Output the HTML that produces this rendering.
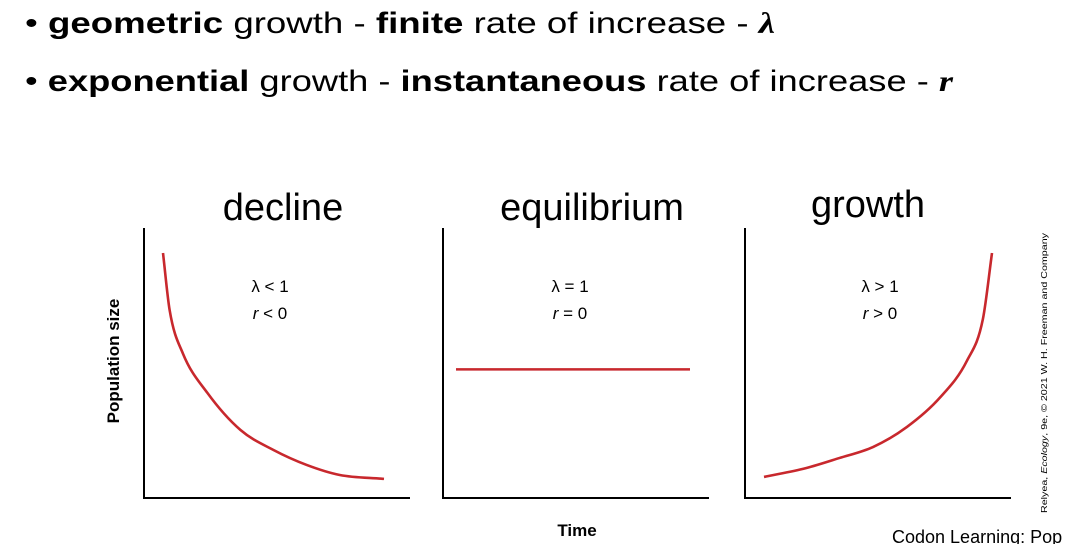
<!DOCTYPE html>
<html><head><meta charset="utf-8"><style>
html,body{margin:0;padding:0;background:#fff;}
svg{display:block;font-family:"Liberation Sans",sans-serif;}
</style></head><body>
<svg id="chart" width="1078" height="544" viewBox="0 0 1078 544">
<text x="25" y="33" font-size="30" textLength="750" lengthAdjust="spacingAndGlyphs">• <tspan font-weight="bold">geometric</tspan> growth  - <tspan font-weight="bold">finite</tspan> rate of increase - <tspan font-weight="bold" font-style="italic" font-family="Liberation Serif">λ</tspan></text>
<text x="25" y="91" font-size="30" textLength="928" lengthAdjust="spacingAndGlyphs">• <tspan font-weight="bold">exponential</tspan> growth - <tspan font-weight="bold">instantaneous</tspan> rate of increase - <tspan font-weight="bold" font-style="italic" font-family="Liberation Serif">r</tspan></text>
<text x="283" y="220" font-size="38" text-anchor="middle">decline</text>
<text x="592" y="220" font-size="38" text-anchor="middle">equilibrium</text>
<text x="868" y="217" font-size="38" text-anchor="middle">growth</text>
<text transform="translate(119,361) rotate(-90)" font-size="17" font-weight="bold" text-anchor="middle">Population size</text>
<text x="577" y="536" font-size="17" font-weight="bold" text-anchor="middle">Time</text>
<text x="892" y="543" font-size="18">Codon Learning: Pop</text>
<text transform="translate(1047,513) rotate(-90)" font-size="8.5" textLength="280" lengthAdjust="spacingAndGlyphs">Relyea, <tspan font-style="italic">Ecology</tspan>, 9e, © 2021 W. H. Freeman and Company</text>
<g id="panels"></g>
</svg>
<script>
const declineTimes=[0,0.3,0.9,2,3.5,5,6.5,8,10];
const declineValues=[100,76.7,59,43,27.8,19.6,13.5,9.4,7.8];
const equilibriumTimes=[0,10];
const equilibriumValues=[52.5,52.5];
const growthTimes=[0,1.84,3.3,4.78,6.27,7.72,8.9,9.6,10];
const growthValues=[8.6,12.2,16.3,20.8,29,41,56,73,100];
const panelNames=["decline","equilibrium","growth"];
const panelLabels1=["λ < 1","λ = 1","λ > 1"];
const panelLabels2=[" < 0"," = 0"," > 0"];
const seriesTimes=[declineTimes,equilibriumTimes,growthTimes];
const series=[declineValues,equilibriumValues,growthValues];
const NS="http://www.w3.org/2000/svg";
const g=document.getElementById('panels');
const axisLeft=[144,443,745], plotX0=[163,456,764], plotX1=[384,690,992];
function yScale(v){return 498-v*2.45;}
function xScale(p,t){return plotX0[p]+(plotX1[p]-plotX0[p])*t/10;}
function mk(tag,attrs){const e=document.createElementNS(NS,tag);for(const k in attrs)e.setAttribute(k,attrs[k]);return e;}
function monotonePath(xs,ys){
  const n=xs.length;
  if(n<3) return `M${xs[0]},${ys[0]} L${xs[n-1]},${ys[n-1]}`;
  const d=[],m=new Array(n);
  for(let i=0;i<n-1;i++) d.push((ys[i+1]-ys[i])/(xs[i+1]-xs[i]));
  m[0]=d[0]; m[n-1]=d[n-2];
  for(let i=1;i<n-1;i++) m[i]=(d[i-1]*d[i]<=0)?0:(d[i-1]+d[i])/2;
  for(let i=0;i<n-1;i++){
    if(d[i]===0){m[i]=0;m[i+1]=0;continue;}
    const a=m[i]/d[i],b=m[i+1]/d[i],s=a*a+b*b;
    if(s>9){const t=3/Math.sqrt(s);m[i]=t*a*d[i];m[i+1]=t*b*d[i];}
  }
  let path=`M${xs[0]},${ys[0]}`;
  for(let i=0;i<n-1;i++){
    const h=(xs[i+1]-xs[i])/3;
    path+=` C${xs[i]+h},${ys[i]+m[i]*h} ${xs[i+1]-h},${ys[i+1]-m[i+1]*h} ${xs[i+1]},${ys[i+1]}`;
  }
  return path;
}
for(let p=0;p<3;p++){
  const ax=mk('path',{d:`M${axisLeft[p]},228 V498 H${axisLeft[p]+266}`,fill:'none',stroke:'#000','stroke-width':2});
  
  
  g.appendChild(ax);
  const vals=series[p], ts=seriesTimes[p];
  const xs=ts.map(t=>xScale(p,t)), ys=vals.map(v=>yScale(v));
  const line=mk('path',{d:monotonePath(xs,ys),fill:'none',stroke:'#c8282d','stroke-width':2.6});
  
  
  g.appendChild(line);
  const cx=[270,570,880][p];
  const t1=mk('text',{x:cx,y:292,'font-size':17,'text-anchor':'middle'});
  t1.textContent=panelLabels1[p];
  
  
  g.appendChild(t1);
  const t2=mk('text',{x:cx,y:319,'font-size':17,'text-anchor':'middle'});
  const it=mk('tspan',{'font-style':'italic'});
  it.textContent='r';
  t2.appendChild(it);
  t2.appendChild(document.createTextNode(panelLabels2[p]));
  
  
  g.appendChild(t2);
}
</script>
</body></html>
